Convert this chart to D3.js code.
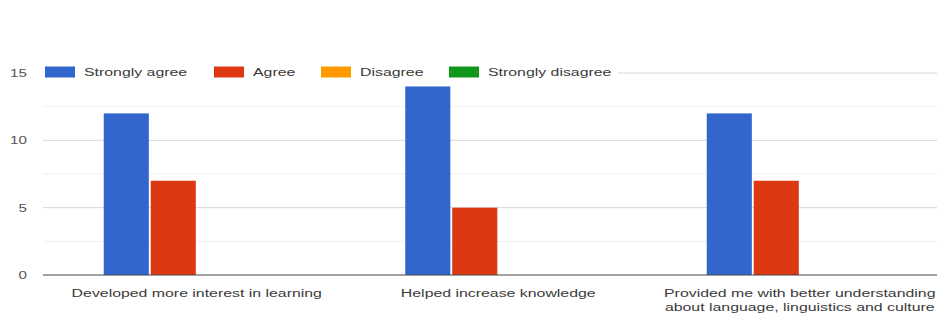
<!DOCTYPE html>
<html><head><meta charset="utf-8">
<script src="https://cdn.jsdelivr.net/npm/d3@7"></script>
<style>body{margin:0;background:#fff;} svg{display:block;font-family:"Liberation Sans",Arial,sans-serif;}</style>
</head><body>
<svg id="c" width="937" height="315"></svg>
<script>
const categories = [
  ["Developed more interest in learning"],
  ["Helped increase knowledge"],
  ["Provided me with better understanding", "about language, linguistics and culture"]
];
const series = ["Strongly agree", "Agree", "Disagree", "Strongly disagree"];
const colors = ["#3366cc", "#dc3912", "#ff9900", "#109618"];
const values = [
  [12, 7, 0, 0],
  [14, 5, 0, 0],
  [12, 7, 0, 0]
];
const yTicks = [0, 5, 10, 15];
const yMinor = [2.5, 7.5, 12.5];

const SX = 1.38; // horizontal stretch of the text in the picture
const svg = d3.select("#c");
const catKeys = categories.map(c => c.join(" "));
const x0 = d3.scaleBand().domain(catKeys).range([46, 950.5]);
const groupW = 186;
const x1 = d3.scaleBand().domain(series).range([0, groupW]).paddingInner(0.04);
const y = d3.scaleLinear().domain([0, 15]).range([275, 73]);

// minor grid
svg.append("g").selectAll("line").data(yMinor).join("line")
  .attr("x1", 43).attr("x2", 937).attr("y1", d => y(d)).attr("y2", d => y(d))
  .attr("stroke", "#f0f0f0").attr("stroke-width", 1);
// major grid
svg.append("g").selectAll("line").data(yTicks.filter(d => d > 0)).join("line")
  .attr("x1", 43).attr("x2", 937).attr("y1", d => y(d)).attr("y2", d => y(d))
  .attr("stroke", "#d8d8d8").attr("stroke-width", 1);

// y tick labels
svg.append("g").selectAll("text").data(yTicks).join("text")
  .attr("transform", d => `translate(27,${y(d)}) scale(${SX},1)`)
  .attr("dy", "0.35em")
  .attr("text-anchor", "end").attr("font-size", 11).attr("fill", "#555")
  .text(d => d);

// bars
const g = svg.append("g").selectAll("g").data(values).join("g")
  .attr("transform", (d, i) => `translate(${x0(catKeys[i]) + (x0.bandwidth() - groupW) / 2},0)`);
g.selectAll("rect").data(d => d.map((v, j) => ({v, j}))).join("rect")
  .attr("x", d => x1(series[d.j]))
  .attr("width", x1.bandwidth())
  .attr("y", d => y(d.v))
  .attr("height", d => y(0) - y(d.v))
  .attr("fill", d => colors[d.j]);

// baseline
svg.append("line").attr("x1", 43).attr("x2", 937).attr("y1", y(0)).attr("y2", y(0))
  .attr("stroke", "#444").attr("stroke-width", 1);

// x labels
const xl = svg.append("g").selectAll("text").data(categories).join("text")
  .attr("transform", (d, i) => `translate(${x0(catKeys[i]) + x0.bandwidth() / 2},297) scale(${SX},1)`)
  .attr("text-anchor", "middle").attr("font-size", 11.5).attr("fill", "#3a3a3a");
xl.selectAll("tspan").data(d => d).join("tspan")
  .attr("x", 0)
  .attr("dy", (d, i) => i === 0 ? 0 : 14)
  .text(d => d);

// legend
const legX = [45, 214, 321, 449];
svg.append("rect").attr("x", 40).attr("y", 64).attr("width", 578).attr("height", 18).attr("fill", "#fff");
const lg = svg.append("g").selectAll("g").data(series).join("g")
  .attr("transform", (d, i) => `translate(${legX[i]},72)`);
lg.append("rect").attr("x", 0).attr("y", -5.5).attr("width", 30).attr("height", 11)
  .attr("fill", (d, i) => colors[i]);
lg.append("text").attr("transform", `translate(39,0) scale(${SX},1)`)
  .attr("dy", "0.35em").attr("font-size", 11.5).attr("fill", "#3a3a3a")
  .text(d => d);
</script>
</body></html>
